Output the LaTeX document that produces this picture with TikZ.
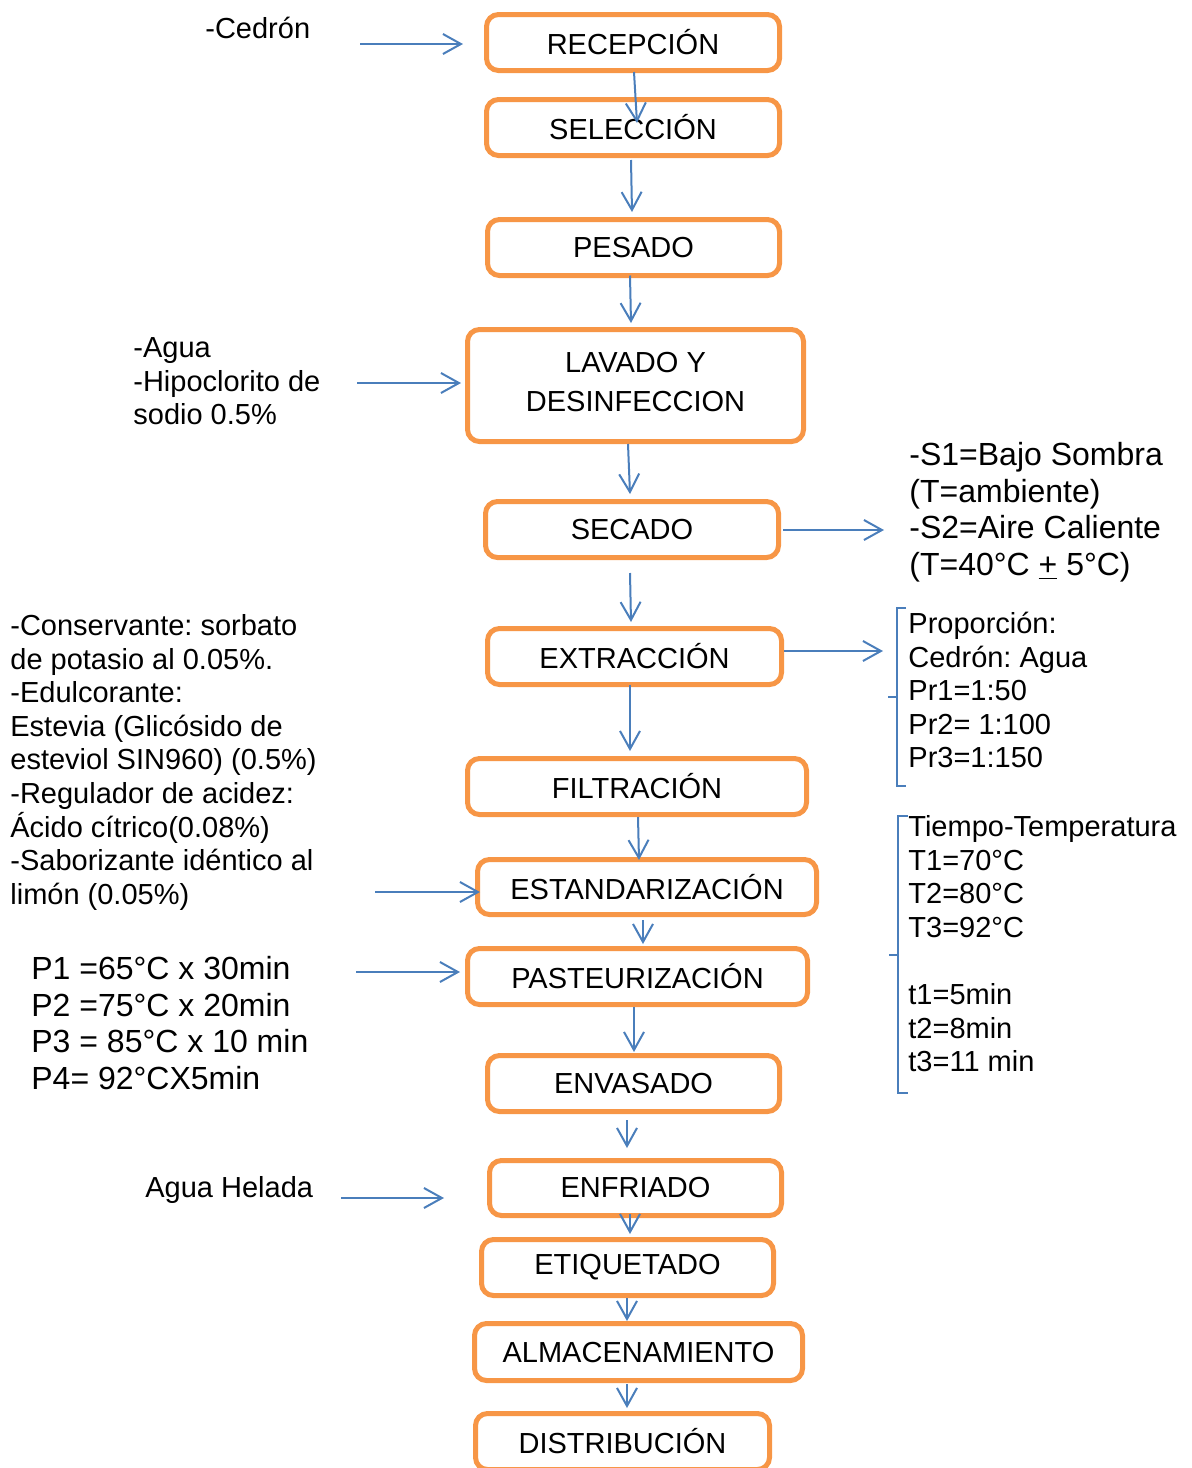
\documentclass[tikz,border=0pt]{standalone}
\usepackage{fontspec}
\setmainfont{Liberation Sans}
\frenchspacing
\usetikzlibrary{arrows.meta,calc}
\definecolor{boxor}{HTML}{F79646}
\definecolor{arrbl}{HTML}{4A7EBB}
\begin{document}
\begin{tikzpicture}[x=0.5pt,y=-0.5pt,
  proc/.style={draw=boxor, line width=2.5pt, rounded corners=6pt, fill=white,
    minimum width=146.5pt, minimum height=28pt, inner sep=0pt, outer sep=0pt,
    font=\fontsize{14.5}{19.5}\selectfont, align=center},
  arr/.style={draw=arrbl, line width=1pt, -{Straight Barb[length=9pt,width=10pt,line width=1pt]}},
  lbl/.style={anchor=base west, inner sep=0pt, align=left, font=\fontsize{14.5}{16.8}\selectfont},
  lblbig/.style={lbl, font=\fontsize{16}{18.35}\selectfont},
  brk/.style={draw=arrbl, line width=0.8pt}]
\useasboundingbox (0,0) rectangle (1192,1468);

% process boxes
\node[proc] (rec) at (633,42.5) {RECEPCIÓN};
\node[proc] (sel) at (633,127.5) {SELECCIÓN};
\node[proc, minimum width=146pt] (pes) at (633.5,247.5) {PESADO};
\node[proc, minimum width=168pt, minimum height=56pt] (lav) at (635.5,385.5) {LAVADO Y\\DESINFECCION\\[-15.5pt]\mbox{}};
\node[proc] (sec) at (632,529.5) {SECADO};
\node[proc, minimum width=147pt] (ext) at (634.5,656.5) {EXTRACCIÓN};
\node[proc, minimum width=169.5pt] (fil) at (637,786.5) {FILTRACIÓN};
\node[proc, minimum width=169.5pt, minimum height=27.5pt] (est) at (647,887) {ESTANDARIZACIÓN};
\node[proc, minimum width=170pt] (pas) at (637.5,976.5) {PASTEURIZACIÓN};
\node[proc, minimum width=146pt] (env) at (633.5,1083.5) {ENVASADO};
\node[proc, minimum width=146pt, minimum height=27.5pt] (enf) at (635.5,1188) {ENFRIADO};
\node[proc, minimum width=146pt] (eti) at (627.5,1267.5) {ETIQUETADO};
\node[proc, minimum width=164pt, minimum height=28.5pt] (alm) at (638.5,1352) {ALMACENAMIENTO};
\node[proc, minimum width=147pt] (dis) at (622.5,1441.5) {DISTRIBUCIÓN};

% vertical flow arrows
\draw[arr] ($(rec.south)+(1,1.5)$) -- ($(sel.north)+(4,23.5)$);
\draw[arr] ($(sel.south)+(-2,4.5)$) -- ($(pes.north)+(-1.5,-7.5)$);
\draw[arr] ($(pes.south)+(-3.5,0)$) -- ($(lav.north)+(-4.5,-6.5)$);
\draw[arr] ($(lav.south)+(-7.5,2.5)$) -- ($(sec.north)+(-2,-7.5)$);
\draw[arr] ($(sec.south)+(-2,15.5)$) -- ($(ext.north)+(-3.5,-6.5)$);
\draw[arr] ($(ext.south)+(-4.5,0)$) -- ($(fil.north)+(-7,-7.5)$);
\draw[arr] ($(fil.south)+(1,2.5)$) -- ($(est.north)+(-8,0.5)$);
\draw[arr] ($(est.south)+(-4,5.5)$) -- ($(pas.north)+(5.5,-4.5)$);
\draw[arr] ($(pas.south)+(-3.5,2.5)$) -- ($(env.north)+(0.5,-3.5)$);
\draw[arr] ($(env.south)+(-6.5,8.5)$) -- ($(enf.north)+(-8.5,-12.5)$);
\draw[arr] ($(enf.south)+(-5.5,-1.5)$) -- ($(eti.north)+(2.5,-5.5)$);
\draw[arr] ($(eti.south)+(-0.5,2.5)$) -- ($(alm.north)+(-11.5,-2.5)$);
\draw[arr] ($(alm.south)+(-11.5,3.5)$) -- ($(dis.north)+(4.5,-5.5)$);

% text labels (anchored at the baseline of their last line)
\node[lbl] (tced) at (205,38) {-Cedrón};
\node[lbl] (tagua) at (133,424.7) {-Agua\\-Hipoclorito de\\sodio 0.5\%};
\node[lblbig] (tsec) at (909,575.6) {-S1=Bajo Sombra\\(T=ambiente)\\-S2=Aire Caliente\\(T=40°C \underline{+} 5°C)};
\node[lbl] (tprop) at (908,767.9) {Proporción:\\Cedrón: Agua\\Pr1=1:50\\Pr2= 1:100\\Pr3=1:150};
\node[lbl] (tcons) at (10,904.3) {-Conservante: sorbato\\de potasio al 0.05\%.\\-Edulcorante:\\Estevia (Glicósido de\\esteviol SIN960) (0.5\%)\\-Regulador de acidez:\\Ácido cítrico(0.08\%)\\-Saborizante idéntico al\\limón (0.05\%)};
\node[lbl] (ttiem) at (908,1071.7) {Tiempo-Temperatura\\T1=70°C\\T2=80°C\\T3=92°C\\[16.8pt]t1=5min\\t2=8min\\t3=11 min};
\node[lblbig] (tpast) at (31,1089.6) {P1 =65°C x 30min\\P2 =75°C x 20min\\P3 = 85°C x 10 min\\P4= 92°CX5min};
\node[lbl] (thel) at (145,1197.5) {Agua Helada};

% side arrows
\coordinate (cced) at (360,44);
\coordinate (cagua) at (357,383);
\coordinate (csec) at (884,530);
\coordinate (cext) at (883,651);
\coordinate (ccons) at (375,892);
\coordinate (cpast) at (356,972);
\coordinate (chel) at (341,1198);
\draw[arr] (cced) -- ($(rec.west)+(-23.5,1.5)$);
\draw[arr] (cagua) -- ($(lav.west)+(-6.5,-2.5)$);
\draw[arr] ($(sec.east)+(4.5,0.5)$) -- (csec);
\draw[arr] ($(ext.east)+(2.5,-5.5)$) -- (cext);
\draw[arr] (ccons) -- ($(est.west)+(2.5,5)$);
\draw[arr] (cpast) -- ($(pas.west)+(-7.5,-4.5)$);
\draw[arr] (chel) -- ($(enf.west)+(-45.5,10)$);

% brackets
\draw[brk] (906,608) -- (897,608) -- (897,697) -- (888,697) (897,697) -- (897,786) -- (906,786);
\draw[brk] (908,816) -- (898,816) -- (898,955) -- (889,955) (898,955) -- (898,1093) -- (908,1093);
\end{tikzpicture}
\end{document}
